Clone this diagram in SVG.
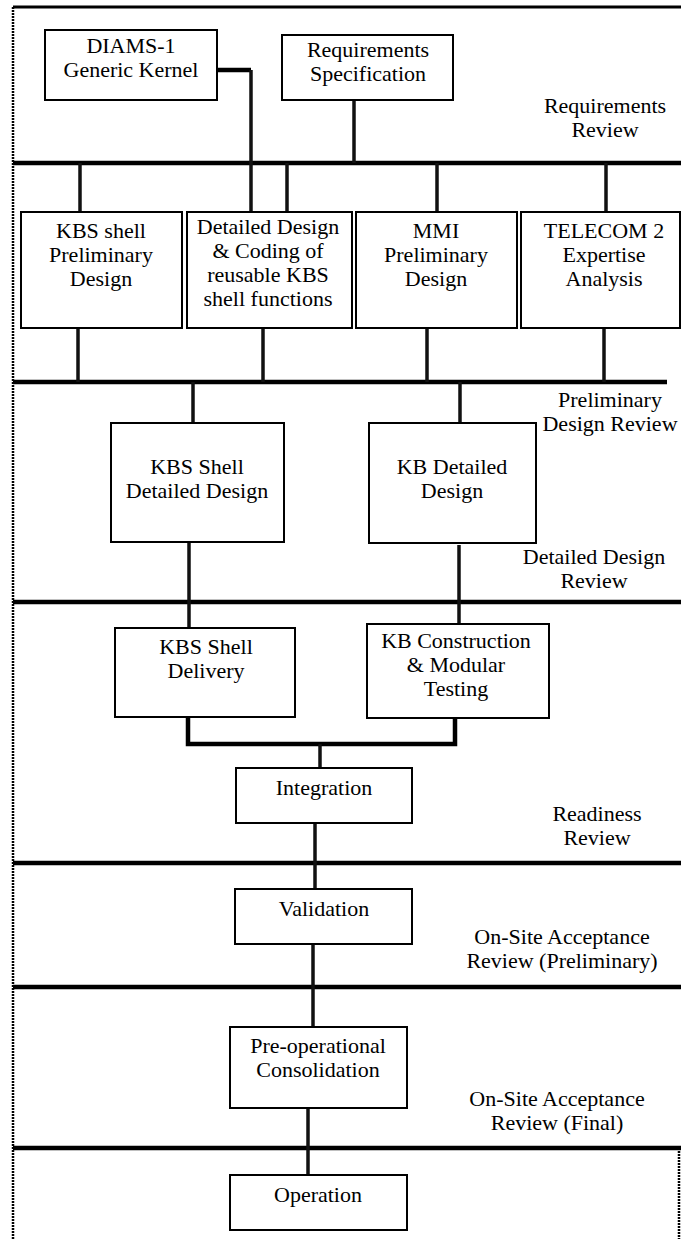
<svg xmlns="http://www.w3.org/2000/svg" width="681" height="1239" viewBox="0 0 681 1239">
<style>
.box{fill:#fff;stroke:#000;stroke-width:2}
text{font-family:"Liberation Serif","Times New Roman",serif;font-size:22px;fill:#000;text-anchor:middle}
.bar{stroke:#000;stroke-width:4.5;fill:none}
.con{stroke:#111;stroke-width:3.5;fill:none}
.thick{stroke:#000;stroke-width:4.5;fill:none}
.border{stroke:#000;stroke-width:2.5;stroke-dasharray:2 1;fill:none}
</style>
<rect width="681" height="1239" fill="#fff"/>
<g id="frame">
<line class="bar" x1="13" y1="7" x2="681" y2="7" style="stroke-width:3"/>
<line class="border" x1="13" y1="7" x2="13" y2="1239"/>
<line class="border" x1="679" y1="1148" x2="679" y2="1239"/>
<line class="bar" x1="13" y1="163" x2="681" y2="163"/>
<line class="bar" x1="13" y1="382" x2="667" y2="382"/>
<line class="bar" x1="13" y1="602" x2="681" y2="602"/>
<line class="bar" x1="13" y1="863" x2="681" y2="863"/>
<line class="bar" x1="13" y1="987" x2="681" y2="987"/>
<line class="bar" x1="13" y1="1148" x2="681" y2="1148"/>
</g>
<g id="connectors">
<polyline class="thick" points="217,70 251,70"/>
<line class="con" x1="251" y1="70" x2="251" y2="212"/>
<line class="con" x1="354" y1="100" x2="354" y2="163"/>
<line class="con" x1="80" y1="163" x2="80" y2="212"/>
<line class="con" x1="287" y1="163" x2="287" y2="212"/>
<line class="con" x1="437" y1="163" x2="437" y2="212"/>
<line class="con" x1="606" y1="163" x2="606" y2="212"/>
<line class="con" x1="78" y1="328" x2="78" y2="382"/>
<line class="con" x1="263" y1="328" x2="263" y2="382"/>
<line class="con" x1="427" y1="328" x2="427" y2="382"/>
<line class="con" x1="604" y1="328" x2="604" y2="382"/>
<line class="con" x1="193" y1="382" x2="193" y2="423"/>
<line class="con" x1="460" y1="382" x2="460" y2="423"/>
<line class="con" x1="189" y1="542" x2="189" y2="628"/>
<line class="con" x1="459" y1="545" x2="459" y2="624"/>
<polyline class="thick" points="188,717 188,744 455,744 455,718"/>
<line class="con" x1="320" y1="744" x2="320" y2="768"/>
<line class="con" x1="315" y1="823" x2="315" y2="889"/>
<line class="con" x1="313" y1="944" x2="313" y2="1027"/>
<line class="con" x1="308" y1="1108" x2="308" y2="1175"/>
</g>
<g id="diams">
<rect class="box" x="45" y="30" width="172" height="70"/>
<text x="131" y="53">DIAMS-1</text>
<text x="131" y="77">Generic Kernel</text>
</g>
<g id="reqspec">
<rect class="box" x="282" y="35" width="171" height="65"/>
<text x="368" y="57">Requirements</text>
<text x="368" y="81">Specification</text>
</g>
<g id="label-req-review">
<text x="605" y="113">Requirements</text>
<text x="605" y="137">Review</text>
</g>
<g id="kbs-prelim">
<rect class="box" x="21" y="212" width="161" height="116"/>
<text x="101" y="238">KBS shell</text>
<text x="101" y="262">Preliminary</text>
<text x="101" y="286">Design</text>
</g>
<g id="detailed-coding">
<rect class="box" x="187" y="212" width="165" height="116"/>
<text x="268" y="234">Detailed Design</text>
<text x="268" y="258">&amp; Coding of</text>
<text x="268" y="282">reusable KBS</text>
<text x="268" y="306">shell functions</text>
</g>
<g id="mmi">
<rect class="box" x="356" y="212" width="161" height="116"/>
<text x="436" y="238">MMI</text>
<text x="436" y="262">Preliminary</text>
<text x="436" y="286">Design</text>
</g>
<g id="telecom">
<rect class="box" x="521" y="212" width="159" height="116"/>
<text x="604" y="238">TELECOM 2</text>
<text x="604" y="262">Expertise</text>
<text x="604" y="286">Analysis</text>
</g>
<g id="label-pdr">
<text x="610" y="407">Preliminary</text>
<text x="610" y="431">Design Review</text>
</g>
<g id="kbs-detailed">
<rect class="box" x="111" y="423" width="173" height="119"/>
<text x="197" y="474">KBS Shell</text>
<text x="197" y="498">Detailed Design</text>
</g>
<g id="kb-detailed">
<rect class="box" x="369" y="423" width="167" height="120"/>
<text x="452" y="474">KB Detailed</text>
<text x="452" y="498">Design</text>
</g>
<g id="label-ddr">
<text x="594" y="564">Detailed Design</text>
<text x="594" y="588">Review</text>
</g>
<g id="kbs-delivery">
<rect class="box" x="115" y="628" width="180" height="89"/>
<text x="206" y="654">KBS Shell</text>
<text x="206" y="678">Delivery</text>
</g>
<g id="kb-construction">
<rect class="box" x="367" y="624" width="182" height="94"/>
<text x="456" y="648">KB Construction</text>
<text x="456" y="672">&amp; Modular</text>
<text x="456" y="696">Testing</text>
</g>
<g id="integration">
<rect class="box" x="236" y="768" width="176" height="55"/>
<text x="324" y="795">Integration</text>
</g>
<g id="label-readiness">
<text x="597" y="821">Readiness</text>
<text x="597" y="845">Review</text>
</g>
<g id="validation">
<rect class="box" x="235" y="889" width="177" height="55"/>
<text x="324" y="916">Validation</text>
</g>
<g id="label-osar-prelim">
<text x="562" y="944">On-Site Acceptance</text>
<text x="562" y="968">Review (Preliminary)</text>
</g>
<g id="preop">
<rect class="box" x="230" y="1027" width="177" height="81"/>
<text x="318" y="1053">Pre-operational</text>
<text x="318" y="1077">Consolidation</text>
</g>
<g id="label-osar-final">
<text x="557" y="1106">On-Site Acceptance</text>
<text x="557" y="1130">Review (Final)</text>
</g>
<g id="operation">
<rect class="box" x="230" y="1175" width="177" height="55"/>
<text x="318" y="1202">Operation</text>
</g>
</svg>
